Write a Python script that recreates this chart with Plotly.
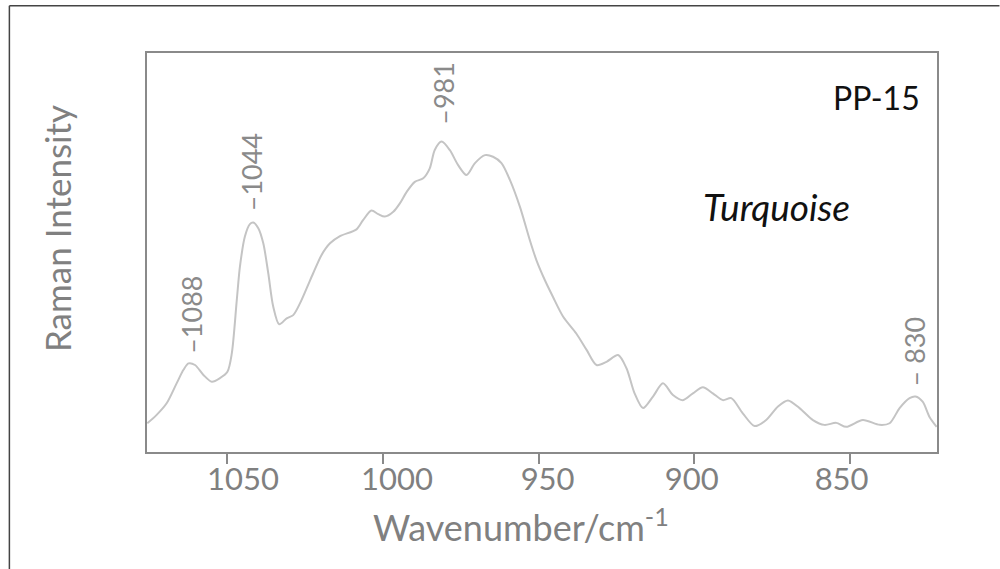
import plotly.graph_objects as go

# Raman spectrum (wavenumber in cm^-1, intensity in arbitrary units)
wavenumber = [1075.5, 1072.5, 1069.3, 1066.1, 1063.9, 1062.3, 1060.2, 1057.5, 1054.8, 1052.2,
              1049.8, 1048.4, 1046.8, 1045.8, 1044.2, 1042.6, 1041.5, 1039.9, 1038.3, 1036.7,
              1035.1, 1033.2, 1030.8, 1028.7, 1026.5, 1024.4, 1022.3, 1019.6, 1016.9, 1013.7,
              1008.4, 1006.3, 1003.6, 1001.4, 999.3, 996.6, 994.5, 992.3, 989.7, 987.0,
              984.9, 983.3, 981.1, 978.5, 975.8, 973.1, 970.4, 967.2, 964.6, 961.9,
              959.2, 956.0, 952.8, 950.7, 948.0, 945.4, 942.1, 937.9, 934.6, 931.4,
              928.2, 924.5, 921.8, 919.2, 916.5, 913.3, 910.1, 906.9, 903.7, 900.5,
              897.3, 894.1, 890.9, 888.2, 884.5, 880.7, 877.0, 873.2, 870.0, 866.3,
              862.0, 858.3, 854.5, 851.3, 846.0, 840.6, 837.4, 834.2, 831.0, 829.1,
              826.8, 824.6, 822.3]
intensity = [7.2, 9.3, 12.2, 17.2, 20.6, 22.2, 21.8, 19.3, 17.6, 18.5,
             20.1, 24.7, 38.1, 46.4, 54.0, 57.1, 57.5, 56.1, 52.3, 44.8,
             36.4, 32.0, 33.5, 34.3, 37.3, 41.0, 44.8, 49.4, 52.3, 54.1,
             55.8, 58.1, 60.5, 59.6, 59.0, 60.2, 62.3, 65.2, 67.7, 68.6,
             71.1, 75.7, 77.8, 75.7, 71.9, 69.4, 72.4, 74.4, 74.0, 72.4,
             68.2, 61.5, 53.1, 48.1, 43.1, 38.9, 33.9, 29.7, 25.6, 21.8,
             22.6, 24.3, 21.0, 14.7, 11.0, 13.9, 17.2, 14.3, 13.0, 14.7,
             16.2, 14.7, 13.0, 13.5, 9.7, 6.5, 8.0, 11.4, 12.9, 11.0,
             8.0, 6.8, 7.3, 6.3, 8.0, 6.8, 7.2, 11.0, 13.5, 13.9,
             12.6, 8.8, 6.3]

# Axis ticks and their (slightly offset) labels as drawn in the figure
tick_values = [1050, 1000, 950, 900, 850]
label_values = [1044.8, 995.4, 947.1, 900.9, 852.8]
label_text = ["1050", "1000", "950", "900", "850"]

# Peak labels
peak_text = ["–1088", "–1044", "–981", "– 830"]
peak_x = [1061.6, 1041.8, 980.4, 829.4]
peak_y = [34.3, 70.2, 90.0, 25.1]

x_range = [1075.6, 822.2]
y_range = [0, 100]

FONT = "Lato"
GRAY = "#808080"

L, R, T, B = 147, 937.5, 53, 452
PW, PH = R - L, B - T


def px(xp):
    return (xp - L) / PW


def py(yp):
    return (B - yp) / PH


fig = go.Figure()
fig.add_trace(go.Scatter(
    x=wavenumber, y=intensity, mode="lines",
    line=dict(color="#c4c4c4", width=2, shape="spline", smoothing=0.8),
    showlegend=False, hoverinfo="skip",
))
# invisible trace on the label axis so that axis is rendered
fig.add_trace(go.Scatter(x=[wavenumber[0]], y=[intensity[0]], xaxis="x2", mode="markers",
                         marker=dict(opacity=0), showlegend=False, hoverinfo="skip"))

for t, xv, yv in zip(peak_text, peak_x, peak_y):
    fig.add_annotation(x=xv, y=yv, xref="x", yref="y", text=t, textangle=-90,
                       xanchor="center", yanchor="middle",
                       showarrow=False, font=dict(family=FONT, size=27, color="#8a8a8a"))

fig.add_annotation(x=px(877), y=py(97), xref="paper", yref="paper", text="PP-15",
                   xanchor="center", yanchor="middle",
                   showarrow=False, font=dict(family=FONT, size=32, color="#111111"))
fig.add_annotation(x=px(777), y=py(206), xref="paper", yref="paper", text="<i>Turquoise</i>",
                   xanchor="center", yanchor="middle",
                   showarrow=False, font=dict(family=FONT, size=37, color="#111111"))

# axis titles
fig.add_annotation(x=px(521), y=py(525), xref="paper", yref="paper",
                   text="Wavenumber/cm<sup>-1</sup>", showarrow=False,
                   xanchor="center", yanchor="middle",
                   font=dict(family=FONT, size=36, color=GRAY))
fig.add_annotation(x=px(57), y=py(229), xref="paper", yref="paper",
                   text="Raman Intensity", textangle=-90, showarrow=False,
                   xanchor="center", yanchor="middle",
                   font=dict(family=FONT, size=35, color=GRAY))

# outer figure border (top and left edges)
fig.add_shape(type="line", xref="paper", yref="paper",
              x0=px(9.3), x1=px(1000), y0=py(5.7), y1=py(5.7),
              line=dict(color="#444444", width=1.5))
fig.add_shape(type="line", xref="paper", yref="paper",
              x0=px(9.3), x1=px(9.3), y0=py(569), y1=py(5.7),
              line=dict(color="#444444", width=1.5))

fig.update_layout(
    width=1000, height=569,
    margin=dict(l=L, r=1000 - R, t=T, b=569 - B),
    paper_bgcolor="white", plot_bgcolor="white",
    showlegend=False,
    xaxis=dict(range=x_range, tickvals=tick_values, showticklabels=False,
               ticks="outside", ticklen=10, tickwidth=1.5, tickcolor="#8a8a8a",
               showline=True, linecolor="#8a8a8a", linewidth=2, mirror=True,
               showgrid=False, zeroline=False),
    xaxis2=dict(range=x_range, overlaying="x", side="bottom", anchor="y",
                tickvals=label_values, ticktext=label_text, ticks="",
                showline=False, showgrid=False, zeroline=False,
                ticklabelstandoff=6,
                tickfont=dict(family=FONT, size=31, color=GRAY)),
    yaxis=dict(range=y_range, showticklabels=False, ticks="",
               showline=True, linecolor="#8a8a8a", linewidth=2, mirror=True,
               showgrid=False, zeroline=False),
)

fig.write_html("out.html")
